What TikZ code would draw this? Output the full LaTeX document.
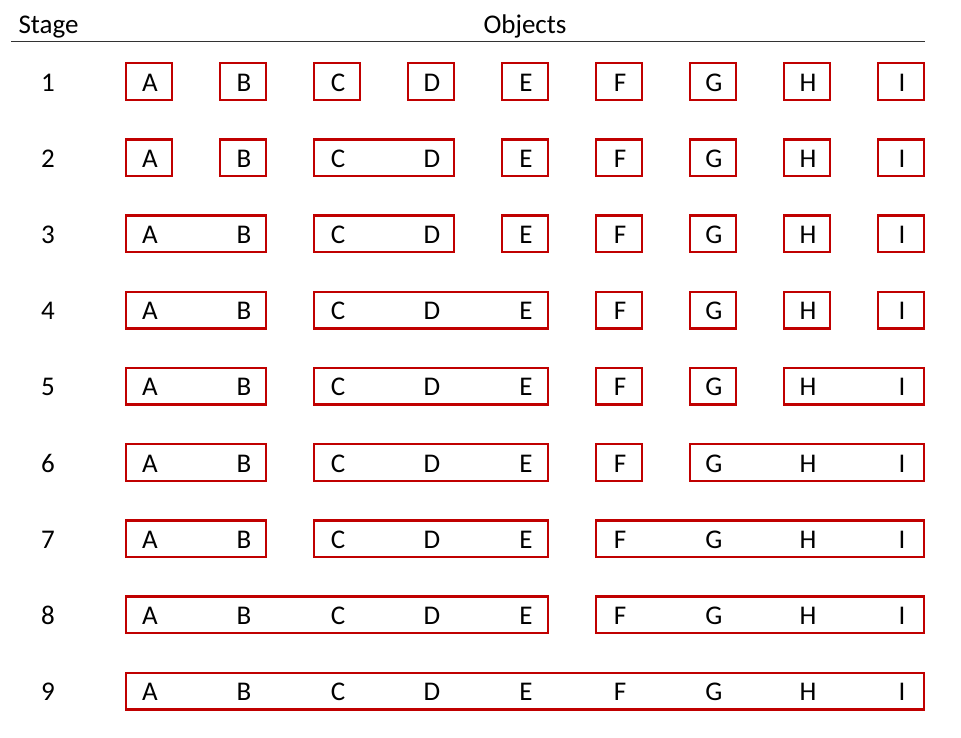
\documentclass[tikz,border=0pt]{standalone}
\usepackage{fontspec}
\setmainfont{Carlito}
\definecolor{boxred}{HTML}{C00000}
\newcommand\grpbox[3]{%
  \pgfmathsetmacro\gpx{149+47*(#2+#3)-94}%
  \pgfmathsetmacro\gpw{45.6+94*(#3-#2)}%
  \pgfmathsetmacro\gpy{81.5+76.2*(#1-1)}%
  \node[grp, minimum width=\gpw pt] (g#1-#2) at (\gpx,\gpy) {};%
}
\begin{document}
\begin{tikzpicture}[x=1pt,y=-1pt,
  grp/.style={draw=boxred, line width=2.4pt, minimum height=36.6pt, inner sep=0pt},
  lbl/.style={font=\fontsize{27}{32}\selectfont, inner sep=0pt, anchor=base},
]
\useasboundingbox (0,0) rectangle (961,737);
\node[lbl] (stage) at (48.5,33) {Stage};
\node[lbl] (objects) at (525,33) {Objects};
\coordinate (hl) at (11,41.5);
\coordinate (hr) at (925,41.5);
\draw[line width=1.8pt, black!80] (hl) -- (hr);
\foreach \ga/\gb in {1/1,2/2,3/3,4/4,5/5,6/6,7/7,8/8,9/9} {\grpbox{1}{\ga}{\gb}}
\foreach \ga/\gb in {1/1,2/2,3/4,5/5,6/6,7/7,8/8,9/9} {\grpbox{2}{\ga}{\gb}}
\foreach \ga/\gb in {1/2,3/4,5/5,6/6,7/7,8/8,9/9} {\grpbox{3}{\ga}{\gb}}
\foreach \ga/\gb in {1/2,3/5,6/6,7/7,8/8,9/9} {\grpbox{4}{\ga}{\gb}}
\foreach \ga/\gb in {1/2,3/5,6/6,7/7,8/9} {\grpbox{5}{\ga}{\gb}}
\foreach \ga/\gb in {1/2,3/5,6/6,7/9} {\grpbox{6}{\ga}{\gb}}
\foreach \ga/\gb in {1/2,3/5,6/9} {\grpbox{7}{\ga}{\gb}}
\foreach \ga/\gb in {1/5,6/9} {\grpbox{8}{\ga}{\gb}}
\foreach \ga/\gb in {1/9} {\grpbox{9}{\ga}{\gb}}
\foreach \st in {1,...,9} {
  \node[lbl] (n\st) at (48,{81.5+76.2*(\st-1)+9.5}) {\st};
  \foreach \col/\lt in {1/A,2/B,3/C,4/D,5/E,6/F,7/G,8/H,9/I} {
    \node[lbl] (l\st-\col) at ({150+94*(\col-1)},{81.5+76.2*(\st-1)+9.5}) {\lt};
  }
}
\end{tikzpicture}
\end{document}
